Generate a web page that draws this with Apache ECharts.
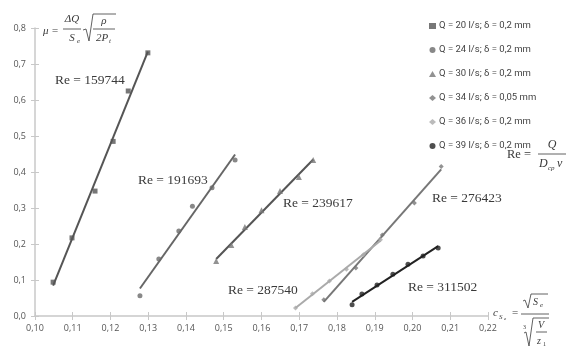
<!DOCTYPE html>
<html><head><meta charset="utf-8">
<script src="https://cdn.jsdelivr.net/npm/echarts@6/dist/echarts.min.js"></script>
<style>html,body{margin:0;padding:0;background:#fff}#c{width:566px;height:351px}</style>
</head><body><div id="c"></div>
<script>
// ---- data ----
const seriesNames = ['Q = 20 l/s; δ = 0,2 mm','Q = 24 l/s; δ = 0,2 mm','Q = 30 l/s; δ = 0,2 mm','Q = 34 l/s; δ = 0,05 mm','Q = 36 l/s; δ = 0,2 mm','Q = 39 l/s; δ = 0,2 mm'];
const x20 = [0.1048, 0.1098, 0.1159, 0.1207, 0.1247, 0.1299];
const y20 = [0.094, 0.217, 0.347, 0.485, 0.625, 0.731];
const x24 = [0.1278, 0.1328, 0.1381, 0.1417, 0.1469, 0.1530];
const y24 = [0.056, 0.158, 0.236, 0.305, 0.356, 0.433];
const x30 = [0.1480, 0.1520, 0.1556, 0.1600, 0.1649, 0.1699, 0.1737];
const y30 = [0.153, 0.197, 0.247, 0.294, 0.347, 0.386, 0.433];
const x34 = [0.1765, 0.1850, 0.1920, 0.2005, 0.2076];
const y34 = [0.045, 0.133, 0.225, 0.314, 0.415];
const x36 = [0.1690, 0.1735, 0.1780, 0.1825, 0.1870, 0.1915];
const y36 = [0.022, 0.062, 0.097, 0.130, 0.170, 0.212];
const x39 = [0.1840, 0.1866, 0.1906, 0.1948, 0.1988, 0.2028, 0.2068];
const y39 = [0.031, 0.061, 0.086, 0.116, 0.144, 0.167, 0.189];
const reLabels = ['Re = 159744','Re = 191693','Re = 239617','Re = 276423','Re = 287540','Re = 311502'];
const xTickMin = 0.10, xTickMax = 0.22, xStep = 0.01;
const yTickMin = 0.0, yTickMax = 0.8, yStep = 0.1;

// ---- build ----
const xs = [x20,x24,x30,x34,x36,x39], ys = [y20,y24,y30,y34,y36,y39];
const symbols = ['rect','circle','triangle','diamond','diamond','circle'];
const markColors = ['#555','#6a6a6a','#777','#777','#aaa','#222'];
const lineColors = ['#555','#666','#555','#777','#aaa','#222'];
function fit(x,y){const n=x.length;let sx=0,sy=0,sxx=0,sxy=0;for(let i=0;i<n;i++){sx+=x[i];sy+=y[i];sxx+=x[i]*x[i];sxy+=x[i]*y[i];}
 const b=(n*sxy-sx*sy)/(n*sxx-sx*sx);const a=(sy-b*sx)/n;const lo=Math.min(...x),hi=Math.max(...x);return [[lo,a+b*lo],[hi,a+b*hi]];}
const series=[];
xs.forEach((x,i)=>{
 series.push({type:'line',name:'trend'+i,data:fit(x,ys[i]),showSymbol:false,symbol:'none',silent:true,
   lineStyle:{color:lineColors[i],width:2},z:2,animation:false});
});
xs.forEach((x,i)=>{
 series.push({type:'scatter',name:seriesNames[i],data:x.map((v,j)=>[v,ys[i][j]]),symbol:symbols[i],
   symbolSize:symbols[i]==='triangle'?6:5,itemStyle:{color:markColors[i]},z:3,animation:false});
});
const fmtX=v=>v.toFixed(2).replace('.',','), fmtY=v=>v.toFixed(1).replace('.',',');
const serif='"Liberation Serif","DejaVu Serif",serif';
const tc='#3a3a3a';
function T(x,y,text,size,opts){return Object.assign({type:'text',left:undefined,x:x,y:y,style:Object.assign({text:text,fill:tc,font:(opts&&opts.italic?'italic ':'')+size+'px '+serif,textAlign:(opts&&opts.align)||'left',textVerticalAlign:'middle'},{})},{});}
function L(x1,y1,x2,y2,w){return {type:'line',shape:{x1:x1,y1:y1,x2:x2,y2:y2},style:{stroke:tc,lineWidth:w||0.8}};}
function P(pts){return {type:'polyline',shape:{points:pts},style:{stroke:tc,lineWidth:0.8,fill:null}};}
const reX=[55,138,283,432,228,408], reY=[80,180,203,198,290,287];
const graphics=[];
reLabels.forEach((t,i)=>graphics.push(T(reX[i],reY[i],t,13.5)));
// mu formula
graphics.push(T(43,31,'μ =',11,{italic:true}));
graphics.push(T(72,19,'ΔQ',11,{italic:true,align:'center'}));
graphics.push(L(63,29,81,29));
graphics.push(T(72,38,'S',11,{italic:true,align:'center'}));
graphics.push(T(77,41,'e',7,{italic:true}));
graphics.push(P([[83,30],[86,29],[89,41],[93,14],[116,14]]));
graphics.push(T(104,21,'ρ',11,{italic:true,align:'center'}));
graphics.push(L(93,29,115,29));
graphics.push(T(102,38,'2P',11,{italic:true,align:'center'}));
graphics.push(T(109,41,'t',7,{italic:true}));
// Re formula
graphics.push(T(507,155,'Re =',12.5));
graphics.push(T(552,145,'Q',12,{italic:true,align:'center'}));
graphics.push(L(538,154,566,154));
graphics.push(T(539,164,'D',12,{italic:true}));
graphics.push(T(548,168,'cp',7,{italic:true}));
graphics.push(T(557,164,'ν',12,{italic:true}));
// c_Se formula
graphics.push(T(493,313,'c',11,{italic:true}));
graphics.push(T(499,317,'S',7,{italic:true}));
graphics.push(T(504,319,'e',5,{italic:true}));
graphics.push(T(512,313,'=',11));
graphics.push(P([[523,301],[525,300],[528,308],[531,294],[548,294]]));
graphics.push(T(533,302,'S',10,{italic:true}));
graphics.push(T(540,305,'e',7,{italic:true}));
graphics.push(L(521,314,549,314));
graphics.push(T(523,327,'3',6));
graphics.push(P([[524,333],[526,332],[529,346],[533,318],[549,318]]));
graphics.push(T(541,325,'V',10,{italic:true,align:'center'}));
graphics.push(L(536,332,547,332));
graphics.push(T(537,341,'z',10,{italic:true}));
graphics.push(T(543,344,'1',6));

const chart=echarts.init(document.getElementById('c'),null,{renderer:'canvas'});
const axisCol='#c8c8c8', labCol='#555';
chart.setOption({
 animation:false,
 backgroundColor:'#fff',
 grid:{left:35,right:78,top:28,bottom:35,containLabel:false},
 legend:{orient:'vertical',left:424,top:16,itemWidth:7,itemHeight:6,itemGap:14,
   data:seriesNames.map((n,i)=>({name:n,icon:symbols[i]==='rect'?'rect':symbols[i]})),
   textStyle:{fontFamily:'"Liberation Sans Narrow","Roboto","Liberation Sans",sans-serif',fontSize:9.5,color:'#444',padding:[0,0,0,-2]}},
 xAxis:[{type:'value',min:xTickMin,max:xTickMax,interval:xStep,
   axisLine:{lineStyle:{color:axisCol,width:1.5}},axisTick:{length:4,lineStyle:{color:axisCol}},
   axisLabel:{formatter:fmtX,color:labCol,fontSize:9,fontFamily:'"Open Sans","DejaVu Sans",sans-serif',margin:8},splitLine:{show:false}},
  {type:'value',position:'bottom',min:xTickMin,max:xTickMax,interval:xStep,
   axisLine:{show:false},axisTick:{inside:true,length:4,lineStyle:{color:axisCol}},axisLabel:{show:false},splitLine:{show:false}}],
 yAxis:[{type:'value',min:yTickMin,max:yTickMax,interval:yStep,
   axisLine:{show:true,lineStyle:{color:axisCol,width:1.5}},axisTick:{show:true,length:4,lineStyle:{color:axisCol}},
   axisLabel:{formatter:fmtY,color:labCol,fontSize:9,fontFamily:'"Open Sans","DejaVu Sans",sans-serif',margin:9},splitLine:{show:false}},
  {type:'value',position:'left',min:yTickMin,max:yTickMax,interval:yStep,
   axisLine:{show:false},axisTick:{show:true,inside:true,length:4,lineStyle:{color:axisCol}},axisLabel:{show:false},splitLine:{show:false}}],
 series:series,
 graphic:graphics
});
</script></body></html>
